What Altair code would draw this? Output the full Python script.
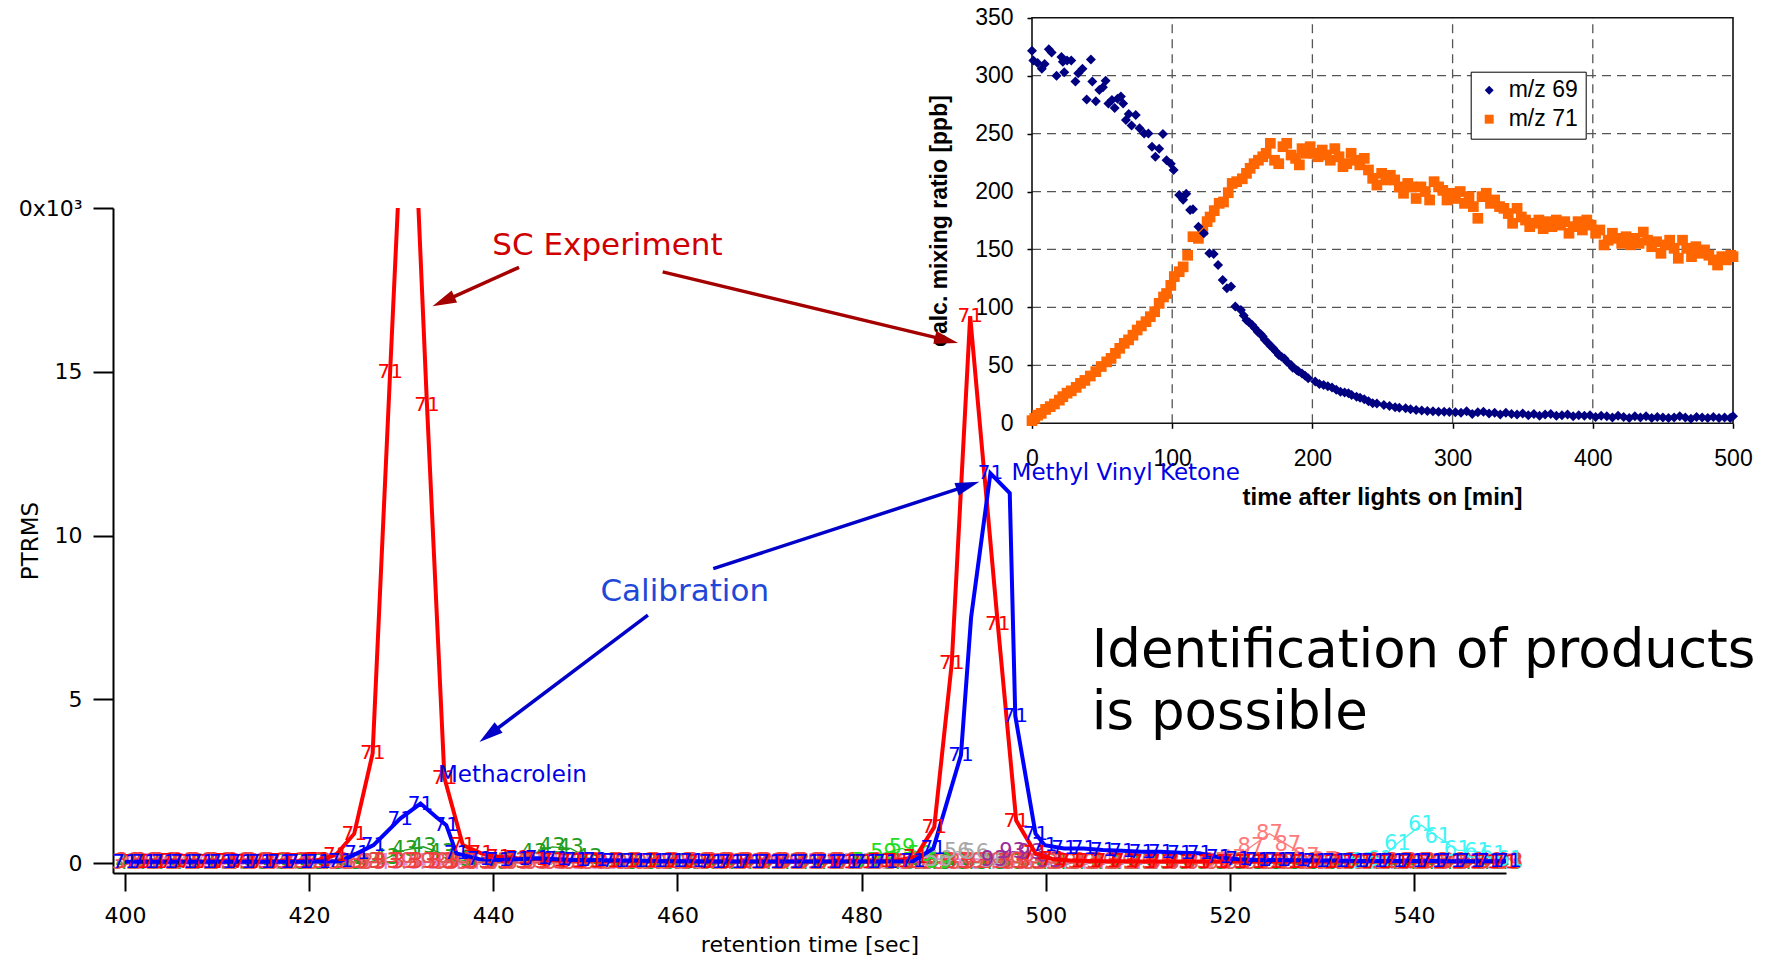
import math
import altair as alt
import pandas as pd

# ---------------- main chromatogram (PTRMS, x10^3) ----------------
RED_T = [401.3, 403.2, 405.2, 407.2, 409.2, 411.1, 413.1, 415.1, 417.0, 419.0,
         421.0, 422.9, 424.9, 426.9, 428.8, 430.8, 432.8, 434.7, 436.7, 438.7,
         440.6, 442.6, 444.6, 446.5, 448.5, 450.5, 452.4, 454.4, 456.4, 458.3,
         460.3, 462.3, 464.3, 466.2, 468.2, 470.2, 472.1, 474.1, 476.1, 478.0,
         480.0, 482.0, 483.9, 485.9, 487.9, 489.8, 491.8, 494.8, 496.8, 498.9,
         500.8, 502.7, 504.7, 506.6, 508.6, 510.6, 512.5, 514.5, 516.5, 518.4,
         520.4, 522.4, 524.3, 526.3, 528.3, 530.2, 532.2, 534.2, 536.1, 538.1,
         540.1, 542.0, 544.0, 546.0, 547.9, 549.9]
RED_V = [0.05, 0.05, 0.06, 0.05, 0.05, 0.06, 0.05, 0.05, 0.06, 0.06,
         0.10, 0.25, 0.90, 3.35, 15.0, 27.0, 14.0, 2.60, 0.55, 0.30,
         0.20, 0.15, 0.12, 0.10, 0.08, 0.08, 0.07, 0.07, 0.06, 0.06,
         0.06, 0.05, 0.05, 0.05, 0.05, 0.05, 0.05, 0.05, 0.05, 0.05,
         0.05, 0.06, 0.08, 0.20, 1.10, 6.10, 16.7, 7.30, 1.30, 0.30,
         0.12, 0.08, 0.07, 0.06, 0.06, 0.05, 0.05, 0.05, 0.05, 0.05,
         0.05, 0.05, 0.05, 0.05, 0.05, 0.05, 0.05, 0.05, 0.05, 0.05,
         0.05, 0.05, 0.05, 0.05, 0.05, 0.05]

BLUE_T = [400.0, 402.1, 404.2, 406.3, 408.4, 410.5, 412.6, 414.7, 416.8, 418.9,
          421.0, 423.4, 425.2, 427.0, 429.9, 432.1, 433.8, 434.9, 436.0, 438.5,
          440.6, 442.7, 444.8, 446.9, 449.0, 451.1, 453.2, 455.3, 457.4, 459.5,
          461.6, 463.7, 465.8, 467.9, 470.0, 472.1, 474.2, 476.3, 478.4, 480.5,
          482.6, 485.6, 487.8, 490.8, 491.9, 494.0, 496.1, 496.7, 498.9, 499.9,
          502.0, 504.1, 506.2, 508.3, 510.4, 512.5, 514.6, 516.7, 518.8, 520.9,
          523.0, 525.1, 527.2, 529.3, 531.4, 533.5, 535.6, 537.7, 539.8, 541.9,
          544.0, 546.1, 548.2, 550.3]
BLUE_V = [0.04, 0.04, 0.04, 0.04, 0.04, 0.04, 0.04, 0.04, 0.04, 0.04,
          0.05, 0.06, 0.30, 0.55, 1.36, 1.82, 1.41, 1.16, 0.30, 0.12,
          0.10, 0.12, 0.15, 0.12, 0.10, 0.10, 0.08, 0.08, 0.07, 0.06,
          0.06, 0.05, 0.05, 0.05, 0.05, 0.05, 0.05, 0.05, 0.05, 0.05,
          0.05, 0.06, 0.45, 3.30, 7.50, 11.9, 11.3, 4.50, 0.90, 0.55,
          0.45, 0.45, 0.40, 0.38, 0.35, 0.35, 0.32, 0.30, 0.18, 0.12,
          0.10, 0.10, 0.09, 0.08, 0.08, 0.07, 0.07, 0.07, 0.07, 0.07,
          0.06, 0.06, 0.06, 0.06]
# line vertices of the calibration trace that carry no "71" marker in the picture
BLUE_UNLABELED = [433.8, 491.9, 496.1]

# other masses crowding the baseline
BAND_T = [400.4, 402.4, 404.4, 406.4, 408.4, 410.4, 412.4, 414.4, 416.4, 418.4,
          420.4, 422.4, 424.4, 426.4, 428.4, 430.4, 432.4, 434.4, 436.4, 438.4,
          440.4, 442.4, 444.4, 446.4, 448.4, 450.4, 452.4, 454.4, 456.4, 458.4,
          460.4, 462.4, 464.4, 466.4, 468.4, 470.4, 472.4, 474.4, 476.4, 478.4,
          480.4, 482.4, 484.4, 486.4, 488.4, 490.4, 492.4, 494.4, 496.4, 498.4,
          500.4, 502.4, 504.4, 506.4, 508.4, 510.4, 512.4, 514.4, 516.4, 518.4,
          520.4, 522.4, 524.4, 526.4, 528.4, 530.4, 532.4, 534.4, 536.4, 538.4,
          540.4, 542.4, 544.4, 546.4, 548.4, 550.4]
M33_V = [0.03, 0.03, 0.04, 0.03, 0.03, 0.03, 0.04, 0.03, 0.03, 0.03,
         0.03, 0.04, 0.04, 0.04, 0.05, 0.05, 0.05, 0.04, 0.04, 0.03,
         0.03, 0.03, 0.03, 0.03, 0.03, 0.03, 0.03, 0.03, 0.03, 0.03,
         0.03, 0.03, 0.03, 0.03, 0.03, 0.03, 0.03, 0.03, 0.03, 0.03,
         0.03, 0.03, 0.04, 0.04, 0.05, 0.05, 0.05, 0.04, 0.04, 0.03,
         0.03, 0.03, 0.03, 0.03, 0.03, 0.03, 0.03, 0.03, 0.03, 0.03,
         0.03, 0.03, 0.03, 0.03, 0.03, 0.03, 0.03, 0.03, 0.03, 0.03,
         0.03, 0.03, 0.03, 0.03, 0.03, 0.03]
M43_V = [0.02, 0.02, 0.02, 0.02, 0.02, 0.02, 0.02, 0.02, 0.02, 0.02,
         0.02, 0.02, 0.02, 0.03, 0.15, 0.40, 0.50, 0.30, 0.10, 0.03,
         0.02, 0.05, 0.30, 0.50, 0.45, 0.15, 0.03, 0.02, 0.02, 0.02,
         0.02, 0.02, 0.02, 0.02, 0.02, 0.02, 0.02, 0.02, 0.02, 0.02,
         0.02, 0.02, 0.02, 0.02, 0.02, 0.02, 0.02, 0.02, 0.02, 0.02,
         0.02, 0.02, 0.02, 0.02, 0.02, 0.02, 0.02, 0.02, 0.02, 0.02,
         0.02, 0.02, 0.02, 0.02, 0.02, 0.02, 0.02, 0.02, 0.02, 0.02,
         0.02, 0.02, 0.02, 0.02, 0.02, 0.02]
M45_V = [0.00, 0.00, 0.01, 0.00, 0.00, 0.01, 0.00, 0.00, 0.01, 0.00,
         0.00, 0.01, 0.02, 0.02, 0.02, 0.02, 0.02, 0.02, 0.01, 0.00,
         0.00, 0.00, 0.01, 0.00, 0.00, 0.01, 0.00, 0.00, 0.01, 0.00,
         0.00, 0.00, 0.01, 0.00, 0.00, 0.01, 0.00, 0.00, 0.01, 0.00,
         0.00, 0.00, 0.01, 0.01, 0.02, 0.02, 0.02, 0.02, 0.01, 0.00,
         0.00, 0.00, 0.01, 0.00, 0.00, 0.01, 0.00, 0.00, 0.01, 0.00,
         0.00, 0.00, 0.01, 0.00, 0.00, 0.01, 0.00, 0.00, 0.01, 0.00,
         0.00, 0.00, 0.01, 0.00, 0.00, 0.01]
M39_V = [0.01, 0.01, 0.01, 0.01, 0.01, 0.01, 0.01, 0.01, 0.01, 0.01,
         0.01, 0.02, 0.02, 0.02, 0.03, 0.03, 0.03, 0.02, 0.02, 0.01,
         0.01, 0.01, 0.01, 0.01, 0.01, 0.01, 0.01, 0.01, 0.01, 0.01,
         0.01, 0.01, 0.01, 0.01, 0.01, 0.01, 0.01, 0.01, 0.01, 0.01,
         0.01, 0.01, 0.02, 0.02, 0.03, 0.03, 0.03, 0.02, 0.02, 0.01,
         0.01, 0.01, 0.01, 0.01, 0.01, 0.01, 0.01, 0.01, 0.01, 0.01,
         0.01, 0.01, 0.01, 0.01, 0.01, 0.01, 0.01, 0.01, 0.01, 0.01,
         0.01, 0.01, 0.01, 0.01]
B59_T = [480.4, 482.4, 484.4, 486.4, 488.4]
B59_V = [0.04, 0.30, 0.45, 0.25, 0.05]
B56_T = [488.4, 490.4, 492.4, 494.4]
B56_V = [0.10, 0.35, 0.30, 0.08]
B93_T = [494.4, 496.4, 498.4, 500.4]
B93_V = [0.10, 0.35, 0.30, 0.06]
B87_T = [518.4, 520.3, 522.3, 524.3, 526.3, 528.3, 530.3]
B87_V = [0.05, 0.12, 0.50, 0.90, 0.55, 0.20, 0.06]
B61_T = [534.4, 536.3, 538.2, 540.8, 542.6, 544.7, 546.9, 548.6, 550.4]
B61_V = [0.05, 0.10, 0.60, 1.16, 0.80, 0.40, 0.35, 0.25, 0.10]

# ---------------- inset: calc. mixing ratio [ppb] vs time after lights on [min] ----------------
NAVY_T = [0, 1, 4, 7, 9, 12, 14, 17.5, 21, 22,
          23, 25, 28, 31, 33, 36, 39, 42, 43, 45.5,
          48, 50.6, 52.5, 54.5, 57, 59, 61, 63.4, 65, 67,
          69, 71, 74, 76.7, 80, 83, 85.6, 88, 90.7, 93.4,
          96, 99, 101, 105, 107.8, 110, 112.8, 114.8, 118.7, 122.6,
          126.5, 129.6, 132.7, 136, 139, 142, 145, 149, 151, 153,
          155, 157, 159, 161, 163, 164.6, 166, 168.5, 170, 172,
          174, 176, 178, 180, 182, 184.8, 186, 188.7, 190, 192.6,
          194.8, 197, 202, 205, 208, 211, 214, 217, 220, 223,
          225.7, 228, 231.5, 234, 237, 240, 243, 246, 251, 255,
          259, 262, 266.5, 270, 274, 278, 282, 286, 290, 294,
          297.7, 302, 306, 310, 314, 318, 322, 326, 330, 334,
          338, 342, 346, 350, 354, 358, 362, 366, 370, 374,
          378, 382, 386, 390, 394, 398, 402, 406, 410, 414,
          418, 422, 426, 430, 434, 438, 442, 446, 450, 454,
          458, 462, 466, 470, 474, 478, 482, 486, 490, 494,
          498, 500]
NAVY_V = [321.5, 313, 311, 306, 310, 322.7, 320, 300, 316, 312,
          303, 313, 313, 295, 302, 306, 279.5, 314, 295, 278,
          287.6, 290, 295.6, 276, 279, 272, 280, 282, 276, 261.7,
          267, 257, 266, 254.5, 250, 250, 238.7, 230, 237, 249.6,
          227, 224, 218.6, 197, 193, 198, 184, 184.6, 169.7, 164,
          146.7, 146, 136.6, 123.7, 116.5, 118, 100.7, 97.8, 93, 89,
          87, 84.8, 82, 79, 77, 74.8, 72, 69, 67, 64.7,
          62, 59, 57.5, 56, 53, 50.3, 48, 46, 45, 43,
          41, 38.8, 36, 34, 33, 32, 31, 29, 27.3, 26.5,
          25.9, 24.5, 23, 22, 20.7, 19, 17.3, 17, 15.8, 15,
          13.8, 13.5, 12.9, 12.2, 11.5, 11, 10.6, 10.3, 10, 9.9,
          9.8, 9.5, 9, 10.5, 8, 9.5, 10, 8.5, 9, 7.5,
          9, 8, 7.5, 8.5, 7, 8, 6.5, 7.5, 8, 6.5,
          7, 7.5, 6, 7, 6.5, 7, 5.5, 6.5, 6, 5,
          6.5, 5.5, 4.5, 6, 5, 6, 4.5, 5.5, 5, 4.5,
          5, 6, 5, 4, 5.5, 5, 4.5, 5.5, 4.5, 5,
          4.5, 6]
ORANGE_T = [0, 2, 4, 6.6, 9.7, 13, 16, 19.5, 22, 25,
            28, 31.5, 34.6, 37.7, 41.6, 45.5, 49.4, 53.3, 56.4, 59.5,
            62.6, 65.8, 68.9, 72, 75, 78, 81.3, 84.4, 87.5, 90.7,
            93.8, 96, 99, 101.5, 105, 107.8, 111, 114.8, 118.7, 121.8,
            124.9, 127, 130, 133.5, 136.6, 140, 142.8, 146, 150, 153,
            155.6, 158.4, 161.5, 164.6, 167, 170, 173, 176, 179, 181.7,
            184.8, 188, 190.7, 192.6, 195.7, 198.4, 201, 204, 207, 210,
            212.8, 216, 219, 221.8, 224.5, 227.6, 230.7, 233.8, 237, 240,
            243, 246, 249.4, 252.5, 255.6, 258.7, 262, 265, 268, 271,
            274, 277.4, 280.5, 283.6, 286.8, 290, 293, 296, 299, 302,
            305.4, 308.5, 311.7, 314.8, 318, 321, 324, 327, 330, 333.5,
            336.6, 339.7, 342.8, 346, 349, 352, 355, 358, 361.5, 364.6,
            367.7, 370.8, 374, 377, 380, 383, 386, 389.5, 392.6, 395.7,
            398.8, 402, 405, 408, 411, 414, 417.5, 420.6, 423.7, 426.8,
            430, 433, 436, 439, 442, 445.5, 448.6, 451.7, 454.8, 458,
            461, 464, 467, 470.4, 473.5, 476.6, 479.7, 482.8, 486, 489,
            492, 495.3, 498.4, 500]
ORANGE_V = [2.3, 4.3, 7, 8.6, 12, 14.4, 16.7, 20, 23, 26,
            28, 31, 34.5, 37, 40.8, 44.6, 49, 53, 56, 60.4,
            64.7, 69, 72, 76, 80.5, 84, 87.7, 92, 96.3, 103.5,
            109, 112, 119, 126.6, 130.8, 135, 145, 161, 159.6, 166.8,
            174, 178, 183.5, 189.8, 191, 199, 207, 208.5, 211, 215.7,
            220, 224, 227, 230, 233, 241.6, 227, 224, 238.7, 241.6,
            231.5, 228.6, 223, 237, 233, 238.7, 233, 230, 235.8, 231.5,
            227, 237, 230, 221.5, 224, 233, 227, 223, 228.6, 218.6,
            211.4, 205.6, 215.7, 210, 214, 210, 204, 198.5, 207, 204,
            194, 204, 200, 192.7, 208.5, 204, 201, 192.7, 198.5, 194,
            200, 189.8, 195.6, 187, 176.9, 195.6, 198.5, 189.8, 192.7, 187,
            185.5, 181, 172.6, 185.5, 178, 175.4, 169.7, 172.6, 175.4, 168,
            174, 169.7, 175.4, 171, 174, 164, 169.7, 174, 166.8, 175.4,
            171, 164, 166.8, 153.9, 158, 164, 159.6, 155.3, 161, 154,
            159.6, 155.3, 165, 158, 152.4, 156.7, 146.7, 153.9, 158, 151,
            142.4, 158, 151, 143.8, 152.4, 146.7, 149.6, 145, 141, 136.6,
            143.8, 141, 145, 143.8]

INSET_XTICKS = [0, 100, 200, 300, 400, 500]
INSET_YTICKS = [0, 50, 100, 150, 200, 250, 300, 350]
MAIN_XTICKS = [400, 420, 440, 460, 480, 500, 520, 540]
MAIN_YTICKS = [0, 5, 10, 15, 20]

# annotation anchors (in main-chart data units)
ANN_BIG_TXT = ["SC Experiment", "Calibration"]
ANN_BIG_T = [452.4, 460.8]
ANN_BIG_V = [18.84, 8.29]
ANN_BIG_COL = ["#d00000", "#1f48d8"]
ANN_SMALL_TXT = ["Methacrolein", "Methyl Vinyl Ketone"]
ANN_SMALL_T = [434.0, 496.3]
ANN_SMALL_V = [2.69, 11.9]
ARROW_T0 = [442.8, 458.4, 463.9, 456.8]
ARROW_V0 = [18.19, 18.05, 8.99, 7.57]
ARROW_T1 = [433.4, 490.5, 492.8, 438.5]
ARROW_V1 = [17.0, 15.88, 11.64, 3.70]
ARROW_COL = ["#a50000", "#a50000", "#0000c8", "#0000c8"]
BIG_LINES = ["Identification of products", "is possible"]
BIG_T = [505.0, 505.0]
BIG_V = [5.99, 4.11]

# ---------------- layout / styles ----------------
W, H = 1393, 665
PAD = {"left": 113, "top": 208, "right": 270, "bottom": 90}
X_DOM = [398.7, 550.0]
Y_DOM = [-0.3, 20.0]
PX_X = W / (X_DOM[1] - X_DOM[0])
PX_Y = H / (Y_DOM[1] - Y_DOM[0])
MF = "DejaVu Sans"
IF = "Liberation Sans"

X_SCALE = alt.Scale(domain=X_DOM, nice=False, zero=False)
Y_SCALE = alt.Scale(domain=Y_DOM, nice=False, zero=False)
X_AXIS = alt.Axis(values=MAIN_XTICKS, orient="bottom", grid=False, domainColor="black",
                  domainWidth=2, tickColor="black", tickWidth=2, tickSize=18,
                  labelFont=MF, labelFontSize=22, labelColor="black", labelPadding=14,
                  labelFlush=False, title="retention time [sec]", titleFont=MF,
                  titleFontSize=22, titleFontWeight="normal", titleColor="black",
                  titlePadding=8)
Y_AXIS = alt.Axis(values=MAIN_YTICKS, orient="left", grid=False, domainColor="black",
                  domainWidth=2, tickColor="black", tickWidth=2, tickSize=20,
                  labelFont=MF, labelFontSize=22, labelColor="black", labelPadding=11,
                  labelFlush=False,
                  labelExpr="datum.value == 20 ? '0x10\u00b3' : datum.label",
                  title="PTRMS", titleFont=MF, titleFontSize=23, titleFontWeight="normal",
                  titleColor="black", titleX=-83, titleY=H / 2, titleAngle=270,
                  titleBaseline="middle", titleAlign="center")


def mx(f="t"):
    return alt.X(f"{f}:Q", scale=X_SCALE, axis=X_AXIS)


def my(f="v"):
    return alt.Y(f"{f}:Q", scale=Y_SCALE, axis=Y_AXIS)


IX_SCALE = alt.Scale(domain=[0, 500], range=[919, 1620], nice=False, zero=False)
IY_SCALE = alt.Scale(domain=[0, 350], range=[215.3, -190.3], nice=False, zero=False)
IX_AXIS = alt.Axis(values=INSET_XTICKS, orient="bottom", offset=-449.7, grid=False,
                   domain=False, tickColor="black", tickSize=5, tickWidth=1.5,
                   labelFont=IF, labelFontSize=23, labelColor="black", labelPadding=19,
                   labelFlush=False, title="time after lights on [min]", titleFont=IF,
                   titleFontSize=24, titleFontWeight="bold", titleColor="black",
                   titleX=1269, titleY=73.7, titleBaseline="middle", titleAlign="center")
IY_AXIS = alt.Axis(values=INSET_YTICKS, orient="left", offset=-919, grid=False,
                   domain=False, tickColor="black", tickSize=5, tickWidth=1.5,
                   labelFont=IF, labelFontSize=23, labelColor="black", labelPadding=14,
                   labelFlush=False, title="calc. mixing ratio [ppb]", titleFont=IF,
                   titleFontSize=23, titleFontWeight="bold", titleColor="black",
                   titleX=-93, titleY=12.5, titleAngle=270, titleBaseline="middle",
                   titleAlign="center")


def ix(f="m"):
    return alt.X(f"{f}:Q", scale=IX_SCALE, axis=IX_AXIS)


def iy(f="ppb"):
    return alt.Y(f"{f}:Q", scale=IY_SCALE, axis=IY_AXIS)


# ---------------- main chart layers ----------------
def series(ts, vs, lab, col):
    return pd.DataFrame({"t": ts, "v": vs, "lab": lab, "col": col})


band = pd.concat([
    series(RED_T, M45_V, "45", "#d98fd2"),
    series(BAND_T, M43_V, "43", "#1f9e1f"),
    series(BLUE_T, M39_V, "39", "#e85a5a"),
    series(BAND_T, M33_V, "33", "#f23c3c"),
    series(B59_T, B59_V, "59", "#22dd22"),
    series(B56_T, B56_V, "56", "#a8a8a8"),
    series(B93_T, B93_V, "93", "#9b2d9b"),
    series(B87_T, B87_V, "87", "#ff7b7b"),
    series(B61_T, B61_V, "61", "#3ff5f5"),
], ignore_index=True)
red = pd.DataFrame({"t": RED_T, "v": RED_V})
blue = pd.DataFrame({"t": BLUE_T, "v": BLUE_V})
blue["lab"] = ["" if t in BLUE_UNLABELED else "71" for t in BLUE_T]

band_line = alt.Chart(band).mark_line(strokeWidth=1.3, clip=True).encode(
    x=mx(), y=my(), detail="lab:N", color=alt.Color("col:N", scale=None))
band_text = alt.Chart(band).mark_text(font=MF, fontSize=21, align="center",
                                      baseline="middle").encode(
    x=mx(), y=my(), text="lab:N", color=alt.Color("col:N", scale=None))
red_line = alt.Chart(red).mark_line(color="#ff0000", strokeWidth=4, clip=True).encode(
    x=mx(), y=my())
blue_line = alt.Chart(blue).mark_line(color="#0000ff", strokeWidth=4, clip=True).encode(
    x=mx(), y=my())
red_txt = alt.Chart(red).transform_filter("datum.v <= 20").mark_text(
    text="71", font=MF, fontSize=20, color="#ff0000", align="center",
    baseline="middle").encode(x=mx(), y=my())
blue_txt = alt.Chart(blue).mark_text(
    font=MF, fontSize=20, color="#0000ff", align="center",
    baseline="middle").encode(x=mx(), y=my(), text="lab:N")

# arrows
rows = []
for t0, v0, t1, v1, c in zip(ARROW_T0, ARROW_V0, ARROW_T1, ARROW_V1, ARROW_COL):
    dxp = (t1 - t0) * PX_X
    dyp = (v1 - v0) * PX_Y
    L = math.hypot(dxp, dyp)
    ang = math.degrees(math.atan2(dxp, dyp)) % 360
    rows.append({"t": t0, "v": v0,
                 "t2": t1 - dxp / L * 12 / PX_X, "v2": v1 - dyp / L * 12 / PX_Y,
                 "tt": t1, "vv": v1, "ang": ang, "col": c})
arr = pd.DataFrame(rows)
arrow_rule = alt.Chart(arr).mark_rule(strokeWidth=3.5).encode(
    x=mx(), y=my(), x2="t2:Q", y2="v2:Q", color=alt.Color("col:N", scale=None))
arrow_head = alt.Chart(arr).mark_point(
    shape="M0,0 L-0.55,2 L0.55,2 Z", filled=True, opacity=1, size=576).encode(
    x=mx("tt"), y=my("vv"), angle=alt.Angle("ang:Q", scale=None),
    color=alt.Color("col:N", scale=None))

ann_big = alt.Chart(pd.DataFrame({"t": ANN_BIG_T, "v": ANN_BIG_V, "txt": ANN_BIG_TXT,
                                  "col": ANN_BIG_COL})).mark_text(
    font=MF, fontSize=31, align="center", baseline="middle").encode(
    x=mx(), y=my(), text="txt:N", color=alt.Color("col:N", scale=None))
ann_small = alt.Chart(pd.DataFrame({"t": ANN_SMALL_T, "v": ANN_SMALL_V,
                                    "txt": ANN_SMALL_TXT})).mark_text(
    font=MF, fontSize=23, align="left", baseline="middle", color="#0000e6").encode(
    x=mx(), y=my(), text="txt:N")
big = alt.Chart(pd.DataFrame({"t": BIG_T, "v": BIG_V, "txt": BIG_LINES})).mark_text(
    font=MF, fontSize=53, align="left", baseline="alphabetic", color="black").encode(
    x=mx(), y=my(), text="txt:N")

main = alt.layer(band_line, band_text, red_line, blue_line, red_txt, blue_txt,
                 arrow_rule, arrow_head, ann_big, ann_small, big)

# ---------------- inset layers ----------------
vgrid = alt.Chart(pd.DataFrame({"m": INSET_XTICKS[1:-1], "ppb": 0, "ppb2": 350})).mark_rule(
    color="#555555", strokeDash=[9, 6], strokeWidth=1.3).encode(x=ix(), y=iy(), y2="ppb2:Q")
hgrid = alt.Chart(pd.DataFrame({"ppb": INSET_YTICKS[1:-1], "m": 0, "m2": 500})).mark_rule(
    color="#555555", strokeDash=[9, 6], strokeWidth=1.3).encode(x=ix(), x2="m2:Q", y=iy())
frame = alt.Chart(pd.DataFrame({"m": [0], "m2": [500], "ppb": [0], "ppb2": [350]})).mark_rect(
    fillOpacity=0, stroke="#111111", strokeWidth=1.6).encode(
    x=ix(), x2="m2:Q", y=iy(), y2="ppb2:Q")

pts = pd.concat([
    pd.DataFrame({"m": ORANGE_T, "ppb": ORANGE_V, "series": "m/z 71"}),
    pd.DataFrame({"m": NAVY_T, "ppb": NAVY_V, "series": "m/z 69"}),
], ignore_index=True)
LEG = alt.Legend(orient="none", legendX=1357.7, legendY=-136.3, title=None,
                 fillColor="white", strokeColor="black", padding=7,
                 labelFont=IF, labelFontSize=23, labelColor="black",
                 symbolSize=80, rowPadding=5, labelOffset=8, symbolStrokeWidth=0)
points = alt.Chart(pts).mark_point(filled=True, opacity=1).encode(
    x=ix(), y=iy(),
    size=alt.Size("series:N", scale=alt.Scale(domain=["m/z 69", "m/z 71"],
                                              range=[100, 115]), legend=None),
    color=alt.Color("series:N", scale=alt.Scale(domain=["m/z 69", "m/z 71"],
                                                range=["#000080", "#ff6600"]), legend=LEG),
    shape=alt.Shape("series:N", scale=alt.Scale(domain=["m/z 69", "m/z 71"],
                                                range=["diamond", "square"]), legend=LEG))

inset = alt.layer(vgrid, hgrid, frame, points)

chart = alt.layer(main, inset).resolve_scale(
    x="independent", y="independent", color="independent", shape="independent"
).properties(
    width=W, height=H, padding=PAD, background="white",
    autosize=alt.AutoSizeParams(type="none")
).configure_view(strokeWidth=0)

chart.save("out.html", embed_options={"renderer": "svg", "actions": False})
